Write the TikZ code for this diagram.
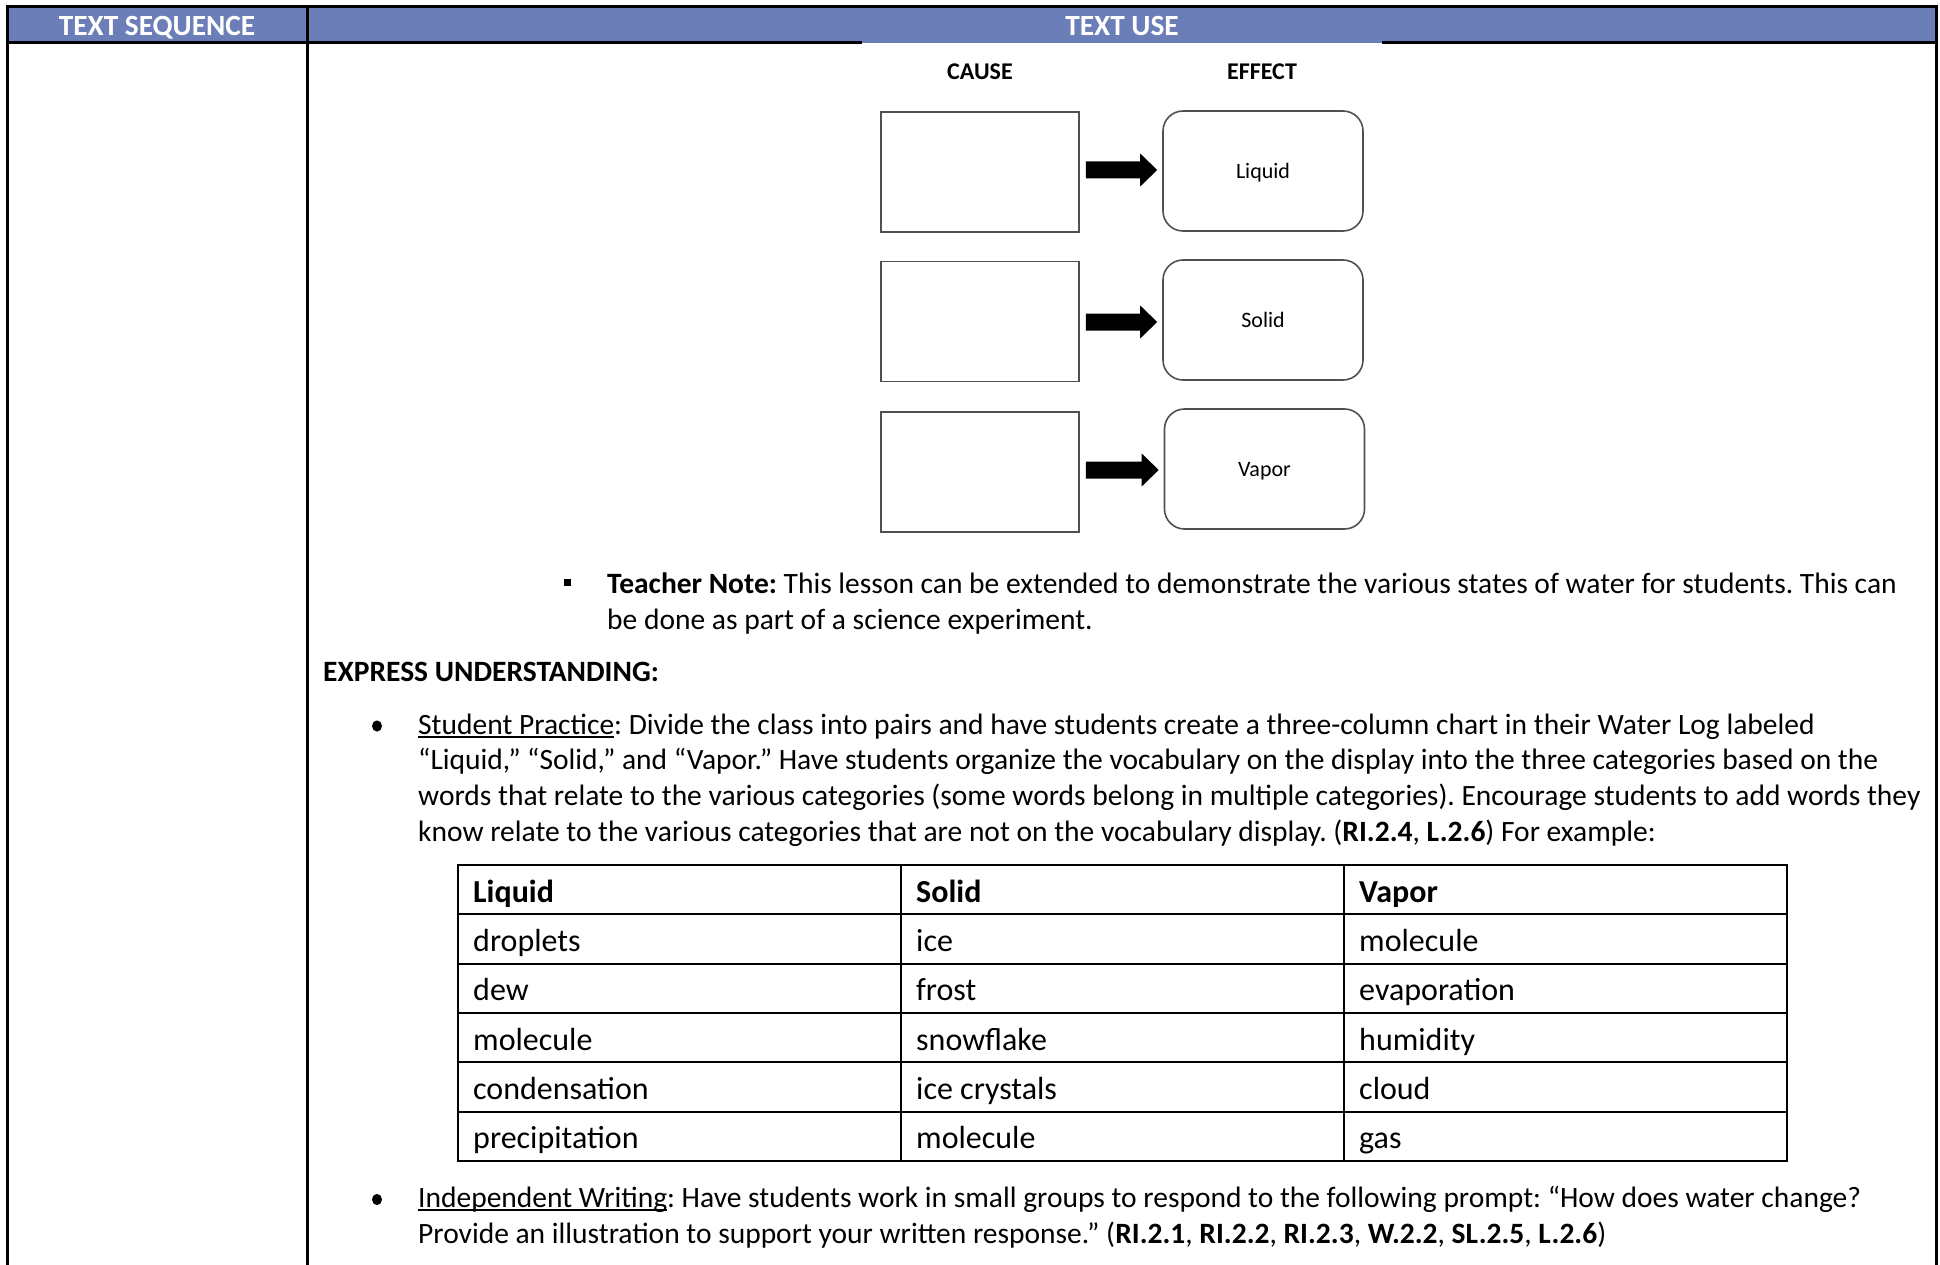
\documentclass[tikz,border=0pt]{standalone}
\usepackage{fontspec}
\setmainfont{Carlito}
\usetikzlibrary{calc}
\definecolor{hdrblue}{HTML}{6C7EB8}
\definecolor{boxgray}{HTML}{505050}
\newcommand\myul[1]{\setbox0=\hbox{#1}\rlap{\rule[-3.5pt]{\wd0}{1.8pt}}\box0}
\frenchspacing
\tikzset{
  hdr/.style={font=\fontsize{29.3}{35}\selectfont\bfseries, text=white, anchor=base, inner sep=0pt},
  body/.style={font=\fontsize{29.5}{35.7}\selectfont, anchor=base west, inner sep=0pt},
  cell/.style={font=\fontsize{32}{38}\selectfont, anchor=base west, inner sep=0pt},
  cellh/.style={font=\fontsize{32}{38}\selectfont\bfseries, anchor=base west, inner sep=0pt},
  colhead/.style={font=\fontsize{24}{28}\selectfont\bfseries, anchor=base, inner sep=0pt},
  causebox/.style={draw=boxgray, line width=1.6pt, minimum width=198pt, minimum height=120pt, inner sep=0pt},
  effectbox/.style={draw=boxgray, line width=1.6pt, rounded corners=20pt, minimum width=200pt, minimum height=120pt, inner sep=0pt, font=\fontsize{22}{26}\selectfont, text height=15pt, text depth=0pt},
  frameline/.style={line width=3pt, draw=black},
  gridline/.style={line width=2.3pt, draw=black},
  flowarrow/.style={fill=black},
}
\begin{document}
\begin{tikzpicture}[x=1pt,y=-1pt]
\useasboundingbox (0,0) rectangle (1940,1265);
% header band
\fill[hdrblue] (7,7) rectangle (1936,43);
\draw[frameline] (7,1265) -- (7,7) -- (1936,7) -- (1936,1265);
\draw[frameline] (307,7) -- (307,1265);
\draw[frameline] (7,43) -- (862,43);
\draw[frameline] (1382,43) -- (1936,43);
\node[hdr] (hseq) at (157,36) {TEXT SEQUENCE};
\node[hdr] (huse) at (1122,36) {TEXT USE};
% cause / effect organiser
\node[colhead] (cause) at (980,80) {CAUSE};
\node[colhead] (effect) at (1262,80) {EFFECT};
\node[causebox] (c1) at (980,172) {};
\node[causebox] (c2) at (980,321.5) {};
\node[causebox] (c3) at (980,472) {};
\node[effectbox] (e1) at (1263,171) {Liquid};
\node[effectbox] (e2) at (1263,320) {Solid};
\node[effectbox] (e3) at (1264.5,469) {Vapor};
\foreach \i/\ay in {1/170,2/322,3/470}{
  \fill[flowarrow] let \p1=([xshift=6pt]c\i.east), \p2=([xshift=-5pt]e\i.west), \p3=(0,\ay) in
    (\x1,\y3+8.5pt) -- (\x2-17pt,\y3+8.5pt) -- (\x2-17pt,\y3+16.5pt) -- (\x2,\y3)
    -- (\x2-17pt,\y3-16.5pt) -- (\x2-17pt,\y3-8.5pt) -- (\x1,\y3-8.5pt) -- cycle;
}
% teacher note
\fill (563.5,579) rectangle (570.5,586);
\node[body] (tn1) at (607,593.5) {\textbf{Teacher Note:} This lesson can be extended to demonstrate the various states of water for students. This can};
\node[body] (tn2) at (607,629.2) {be done as part of a science experiment.};
% express understanding
\node[body] (eu) at (323,681) {\textbf{EXPRESS UNDERSTANDING:}};
\fill (377,726) ellipse (5 and 5.6);
\node[body] (sp1) at (418,734) {\myul{Student Practice}: Divide the class into pairs and have students create a three-column chart in their Water Log labeled};
\node[body] (sp2) at (418,769.7) {“Liquid,” “Solid,” and “Vapor.” Have students organize the vocabulary on the display into the three categories based on the};
\node[body] (sp3) at (418,805.4) {words that relate to the various categories (some words belong in multiple categories). Encourage students to add words they};
\node[body] (sp4) at (418,841.1) {know relate to the various categories that are not on the vocabulary display. (\textbf{RI.2.4}, \textbf{L.2.6}) For example:};
% table
\draw[gridline] (458,865) rectangle (1787,1161);
\foreach \k in {1,...,5}{
  \draw[gridline] (458,{865+49.33*\k}) -- (1787,{865+49.33*\k});
}
\draw[gridline] (901,865) -- (901,1161);
\draw[gridline] (1344,865) -- (1344,1161);
\node[cellh] (th1) at (473,902) {Liquid};
\node[cellh] (th2) at (916,902) {Solid};
\node[cellh] (th3) at (1359,902) {Vapor};
\foreach \a/\b/\c [count=\r] in {droplets/ice/molecule, dew/frost/evaporation, molecule/snowflake/humidity, condensation/ice crystals/cloud, precipitation/molecule/gas}{
  \node[cell] (ta\r) at (473,{902+49.33*\r}) {\a};
  \node[cell] (tb\r) at (916,{902+49.33*\r}) {\b};
  \node[cell] (tc\r) at (1359,{902+49.33*\r}) {\c};
}
% independent writing
\fill (377,1199.5) ellipse (5 and 5.6);
\node[body] (iw1) at (418,1207.5) {\myul{Independent Writing}: Have students work in small groups to respond to the following prompt: “How does water change?};
\node[body] (iw2) at (418,1243.2) {Provide an illustration to support your written response.” (\textbf{RI.2.1}, \textbf{RI.2.2}, \textbf{RI.2.3}, \textbf{W.2.2}, \textbf{SL.2.5}, \textbf{L.2.6})};
\end{tikzpicture}
\end{document}
